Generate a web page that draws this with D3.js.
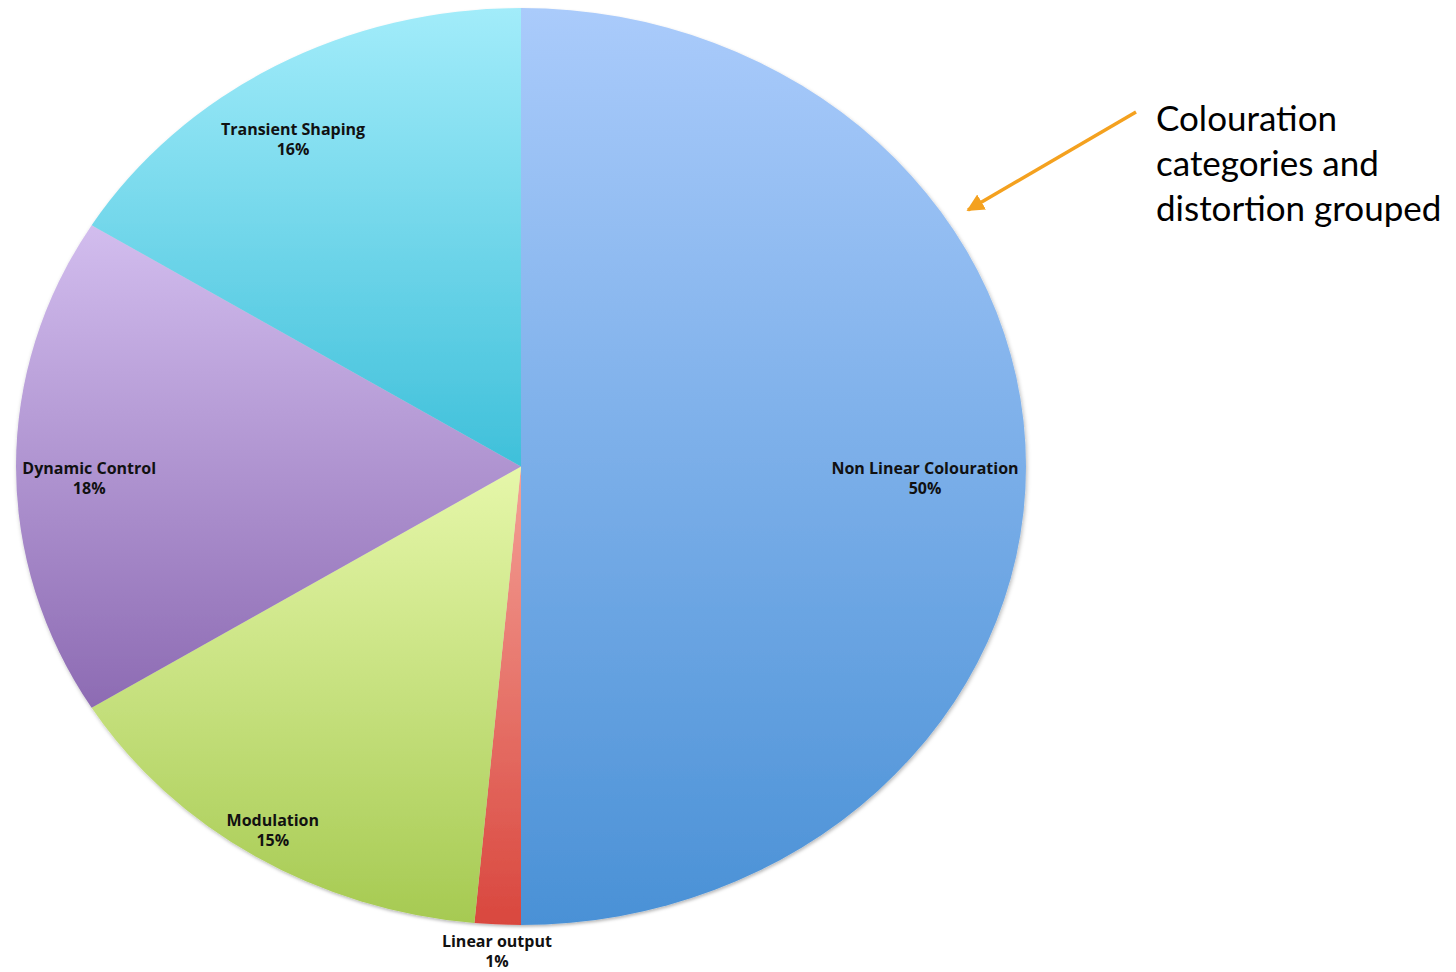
<!DOCTYPE html>
<html>
<head>
<meta charset="utf-8">
<script src="https://cdn.jsdelivr.net/npm/d3@7"></script>
<style>
  html, body { margin: 0; padding: 0; background: #fff; }
  svg { display: block; }
</style>
</head>
<body>
<svg id="chart" width="1456" height="972"></svg>
<script>
// Counts of effects per category (clockwise from 12 o'clock)
const categories = ["Non Linear Colouration", "Linear output", "Modulation", "Dynamic Control", "Transient Shaping"];
const counts = [34, 1, 10, 12, 11];
// Vertical gradient stops per slice: [top, bottom]
const topColors = ["#aacbfb", "#f4a096", "#e6f7aa", "#d2bdee", "#a2ecfa"];
const bottomColors = ["#4a91d6", "#d9473e", "#a6ca52", "#8d6bb3", "#3fc0da"];
const annotationLines = ["Colouration", "categories and", "distortion grouped"];

const svg = d3.select("#chart");
const cx = 521, cy = 466.5, rx = 505, ry = 458.5;

const defs = svg.append("defs");
topColors.forEach((c, i) => {
  const g = defs.append("linearGradient")
    .attr("id", "grad" + i)
    .attr("x1", 0).attr("y1", 0).attr("x2", 0).attr("y2", 1);
  g.append("stop").attr("offset", "0%").attr("stop-color", c);
  g.append("stop").attr("offset", "100%").attr("stop-color", bottomColors[i]);
});
const shadow = defs.append("filter").attr("id", "shadow")
  .attr("x", "-5%").attr("y", "-5%").attr("width", "110%").attr("height", "110%");
shadow.append("feDropShadow").attr("dx", 1).attr("dy", 2)
  .attr("stdDeviation", 2).attr("flood-color", "#000").attr("flood-opacity", 0.28);

const total = d3.sum(counts);
const pie = d3.pie().sort(null).value(d => d)(counts);
const arc = d3.arc().innerRadius(0).outerRadius(rx);

// The pie is drawn as a circle and stretched vertically into an ellipse
const pieG = svg.append("g")
  .attr("transform", `translate(${cx},${cy}) scale(1,${ry / rx})`)
  .attr("filter", "url(#shadow)");
pieG.selectAll("path")
  .data(pie)
  .join("path")
  .attr("d", arc)
  .attr("fill", (d, i) => `url(#grad${i})`);

// Label placement: fraction of the radius along each slice's mid angle,
// with a small angular nudge (degrees) for a few labels
const labelRadius = [0.8, 1.033, 0.913, 0.855, 0.866];
const labelNudge = [0, 0, 0.8, 0, -2.3];
const fmt = v => Math.round(v / total * 100) + "%";
const labels = svg.append("g")
  .attr("font-family", "'Open Sans', 'DejaVu Sans', sans-serif")
  .attr("font-weight", "bold")
  .attr("font-size", 16)
  .attr("fill", "#111")
  .attr("text-anchor", "middle");
pie.forEach((d, i) => {
  const a = (d.startAngle + d.endAngle) / 2 + labelNudge[i] * Math.PI / 180;
  const x = cx + Math.sin(a) * rx * labelRadius[i];
  const y = cy - Math.cos(a) * ry * labelRadius[i];
  const t = labels.append("text").attr("x", x).attr("y", y + 7);
  t.append("tspan").attr("x", x).text(categories[i]);
  t.append("tspan").attr("x", x).attr("dy", 20).text(fmt(d.data));
});

// Annotation arrow pointing at the large slice
defs.append("marker").attr("id", "arrowhead")
  .attr("viewBox", "0 0 10 10").attr("refX", 9).attr("refY", 5)
  .attr("markerWidth", 5).attr("markerHeight", 5)
  .attr("markerUnits", "strokeWidth")
  .attr("orient", "auto")
  .append("path").attr("d", "M0,0 L10,5 L0,10 Z").attr("fill", "#f4a11f");
svg.append("line")
  .attr("x1", 1136).attr("y1", 112)
  .attr("x2", 968).attr("y2", 210)
  .attr("stroke", "#f4a11f").attr("stroke-width", 3.5)
  .attr("marker-end", "url(#arrowhead)");

const note = svg.append("text")
  .attr("font-family", "Lato, 'Open Sans', sans-serif")
  .attr("font-size", 35)
  .attr("fill", "#000");
annotationLines.forEach((s, i) => {
  note.append("tspan").attr("x", 1156).attr("y", 131 + i * 45).text(s);
});
</script>
</body>
</html>
